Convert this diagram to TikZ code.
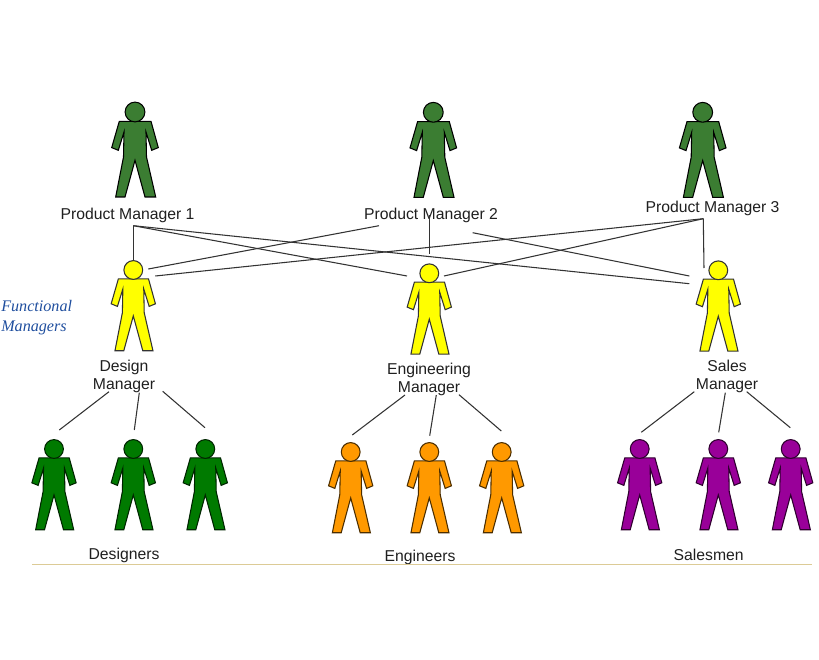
\documentclass[tikz,border=0pt]{standalone}
\usepackage{fontspec}
\setmainfont{Liberation Sans}
\newfontfamily\fnserif{Liberation Serif}
\definecolor{prodgreen}{HTML}{3B7D32}
\definecolor{desgreen}{HTML}{007A00}
\definecolor{funcyellow}{HTML}{FFFF00}
\definecolor{engorange}{HTML}{FF9900}
\definecolor{salespurple}{HTML}{990099}
\definecolor{fnblue}{HTML}{1F4E9E}
\definecolor{rulecolor}{HTML}{DCCB96}
\tikzset{
  person/.pic={
    \path[pic actions] (-15.7,9.3) -- (16,9.3) -- (23.3,35.6) -- (16.7,38.3) -- (11,20)
      -- (11.5,45) -- (20.7,85) -- (10,85) -- (0,48.3) -- (-10,85) -- (-19.3,85)
      -- (-11.5,45) -- (-11,20) -- (-16.7,38.3) -- (-23.3,35.6) -- cycle;
    \path[pic actions] (0,0) circle (9.9);
  }
}
\begin{document}
\begin{tikzpicture}[
    x=0.75pt, y=-0.75pt,
    label/.style={font=\fontsize{11.8}{14}\selectfont,text=black!88,inner sep=0pt,align=center},
    fnlabel/.style={font=\fnserif\itshape\fontsize{12.1}{15}\selectfont,text=fnblue,inner sep=0pt,align=left,anchor=west},
    link/.style={draw=black!80,line width=0.8pt},
    prodman/.style={fill=prodgreen,draw=black,line width=0.8pt},
    funcman/.style={fill=funcyellow,draw=black!80,line width=0.8pt,scale=0.95},
    designer/.style={fill=desgreen,draw=black!70!desgreen,line width=0.8pt,scale=0.95},
    engineer/.style={fill=engorange,draw=black!70!engorange,line width=0.8pt,scale=0.95},
    salesman/.style={fill=salespurple,draw=black!70!salespurple,line width=0.8pt,scale=0.95}]
    \useasboundingbox (0,0) rectangle (819,660);
    \pic[prodman] at (135,112) {person};
    \pic[prodman] at (433.3,112.3) {person};
    \pic[prodman] at (702.7,112.3) {person};
    \pic[funcman] at (133.3,270) {person};
    \pic[funcman] at (429.3,273.3) {person};
    \pic[funcman] at (718.3,270.3) {person};
    \pic[designer] at (54,449) {person};
    \pic[designer] at (133.3,449) {person};
    \pic[designer] at (205.3,449) {person};
    \pic[engineer] at (350.7,452) {person};
    \pic[engineer] at (429.3,452) {person};
    \pic[engineer] at (501.7,452) {person};
    \pic[salesman] at (639.7,449) {person};
    \pic[salesman] at (718.3,449) {person};
    \pic[salesman] at (790.7,449) {person};
    \node[label] (prodone) at (127.5,215) {Product Manager 1};
    \node[label] (prodtwo) at (431,215) {Product Manager 2};
    \node[label] (prodthree) at (712.5,208) {Product Manager 3};
    \node[label] (designman) at (124,376.5) {Design\\Manager};
    \node[label] (engman) at (429,379.5) {Engineering\\Manager};
    \node[label] (salesman) at (727,376.5) {Sales\\Manager};
    \node[label] (designers) at (124,555) {Designers};
    \node[label] (engineers) at (420,557) {Engineers};
    \node[label] (salesmen) at (708.7,555) {Salesmen};
    \node[fnlabel] (functional) at (1,318) {Functional\\Managers};
    % free ends of the links
    \coordinate (pa) at (133.3,225.7);
    \coordinate (pbl) at (379,225.7);
    \coordinate (pbm) at (429.3,215);
    \coordinate (pbr) at (472.7,232.7);
    \coordinate (pc) at (703.3,218.7);
    \coordinate (dtop) at (133.3,260.7);
    \coordinate (dra) at (148.3,269);
    \coordinate (drb) at (155.3,276);
    \coordinate (etop) at (429.3,254.3);
    \coordinate (ela) at (407,276);
    \coordinate (era) at (444,276);
    \coordinate (stop) at (704,268);
    \coordinate (sla) at (689.3,276);
    \coordinate (slb) at (689.3,283.7);
    \coordinate (da) at (109,391.7);
    \coordinate (db) at (139.3,392.7);
    \coordinate (dc) at (162.7,391.3);
    \coordinate (dd) at (59.3,430);
    \coordinate (de) at (134.3,430);
    \coordinate (df) at (205,427.7);
    \coordinate (ea) at (405,395);
    \coordinate (eb) at (436.3,395);
    \coordinate (ec) at (459,394.7);
    \coordinate (ed) at (352.3,435);
    \coordinate (ee) at (429.7,435.7);
    \coordinate (ef) at (501.3,431);
    \coordinate (sa) at (694.3,391.7);
    \coordinate (sb) at (725.3,392.7);
    \coordinate (sc) at (746.7,391.7);
    \coordinate (sd) at (641.3,432.3);
    \coordinate (se) at (718.7,432.3);
    \coordinate (sf) at (790.3,427.7);
    \path[link] (pa) edge (dtop);
    \path[link] (pa) edge (ela);
    \path[link] (pa) edge (slb);
    \path[link] (pbl) edge (dra);
    \path[link] (pbm) edge (etop);
    \path[link] (pbr) edge (sla);
    \path[link] (pc) edge (drb);
    \path[link] (pc) edge (era);
    \path[link] (pc) edge (stop);
    \path[link] (da) edge (dd);
    \path[link] (db) edge (de);
    \path[link] (dc) edge (df);
    \path[link] (ea) edge (ed);
    \path[link] (eb) edge (ee);
    \path[link] (ec) edge (ef);
    \path[link] (sa) edge (sd);
    \path[link] (sb) edge (se);
    \path[link] (sc) edge (sf);
    \coordinate (rulea) at (32,564.5);
    \coordinate (ruleb) at (812,564.5);
    \draw[rulecolor,line width=0.7pt] (rulea) -- (ruleb);
  \end{tikzpicture}
\end{document}
